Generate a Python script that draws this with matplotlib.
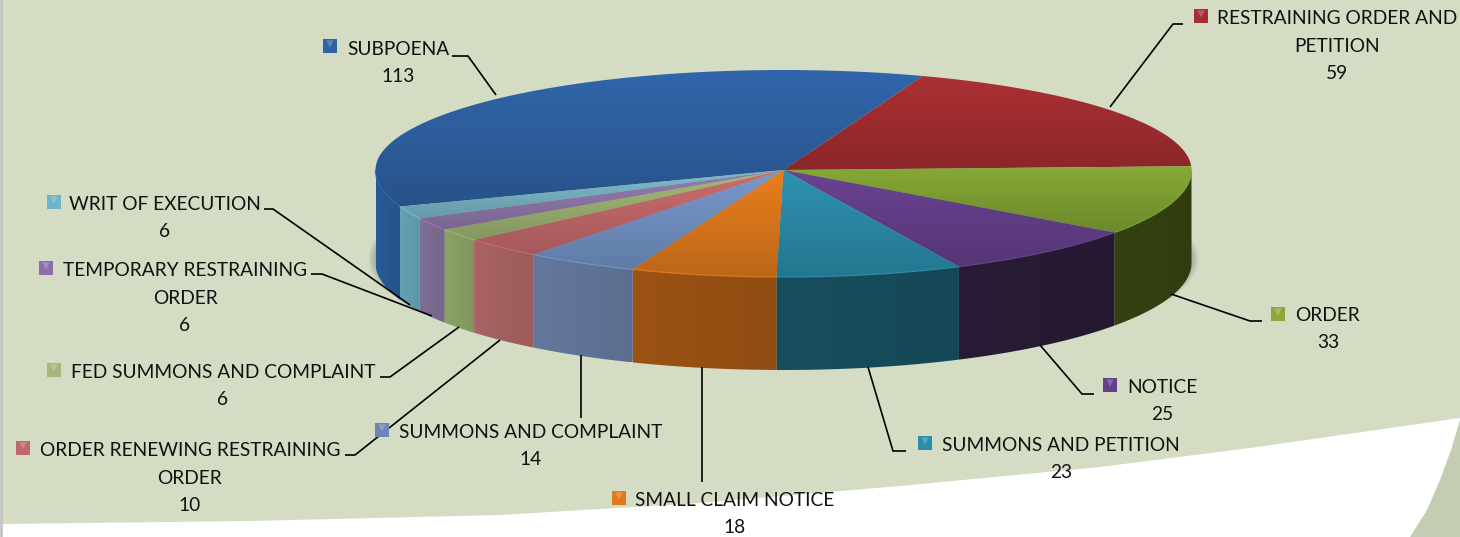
import matplotlib
matplotlib.use('Agg')
import matplotlib.pyplot as plt
from matplotlib.patches import Polygon, Ellipse
import matplotlib.colors as mc
import numpy as np

plt.rcParams['font.family'] = ['Lato', 'DejaVu Sans']

categories = ['SUBPOENA', 'RESTRAINING ORDER AND\nPETITION', 'ORDER', 'NOTICE',
              'SUMMONS AND PETITION', 'SMALL CLAIM NOTICE', 'SUMMONS AND COMPLAINT',
              'ORDER RENEWING RESTRAINING\nORDER', 'FED SUMMONS AND COMPLAINT',
              'TEMPORARY RESTRAINING\nORDER', 'WRIT OF EXECUTION']
values = [113, 59, 33, 25, 23, 18, 14, 10, 6, 6, 6]

top_colors = ['#2f62a4', '#a52e32', '#80a334', '#66408c', '#2c8dab', '#e07a1c',
              '#7393c6', '#c4696b', '#9db472', '#9079ab', '#7ab7c7']
side_colors = ['#25578f', '#6b1c1e', '#323f10', '#271a33', '#164b5a', '#964f13',
               '#5f7396', '#a35f60', '#869c62', '#7a6a90', '#5f9cad']
marker_colors = ['#2f62a4', '#a52e32', '#8aa83c', '#66408c', '#2c8dab', '#e07a1c',
                 '#6d86b8', '#c0686a', '#a9b67a', '#8a6fa8', '#6fb3c8']

# label text centre, marker centre, leader line points
label_x = [398, 1337, 1328, 1162, 1061, 735, 531, 190, 223, 185, 165]
label_y = [63, 46, 329, 401, 459, 514, 446, 478, 386, 298, 218]
marker_xy = [(330, 46), (1201, 16), (1278, 314), (1110, 385), (925, 443), (619, 498),
             (382, 430), (23, 448), (54, 370), (46, 268), (54, 202)]
leaders = [[(452, 56), (468, 56), (496, 95)],
           [(1183, 24), (1173, 24), (1110, 107)],
           [(1262, 321), (1250, 321), (1171, 294)],
           [(1094, 394), (1082, 394), (1040, 345)],
           [(906, 451), (893, 451), (868, 367)],
           [(702, 482), (702, 367)],
           [(581, 418), (581, 355)],
           [(345, 455), (355, 455), (500, 340)],
           [(380, 377), (390, 377), (459, 327)],
           [(311, 274), (322, 274), (432, 316)],
           [(264, 209), (273, 209), (410, 305)]]

cx, cy, rx, ry_back, ry_front, depth = 783.5, 170, 408, 100, 107, 93
start_angle = 200

fig = plt.figure(figsize=(14.6, 5.37), dpi=100)
ax = fig.add_axes([0, 0, 1, 1])
ax.set_xlim(0, 1460)
ax.set_ylim(537, 0)
ax.axis('off')

# background shapes
xs = np.array([0, 250, 500, 700, 900, 1100, 1250, 1460])
curve = np.array([524, 521, 515, 503, 486, 467, 448, 418])
gx = np.linspace(0, 1460, 300)
ax.fill_between(gx, np.interp(gx, xs, curve), 0, color='#d4dcc4', lw=0)
ax.add_patch(Polygon([(1410, 537), (1427, 510), (1440, 480), (1451, 450), (1460, 420), (1460, 537)],
                     fc='#c5ccb4', lw=0))
ax.plot([1, 1], [0, 537], color='#c4c4c4', lw=2)

# soft shadow
for i in range(6):
    ax.add_patch(Ellipse((cx, cy + depth - 4), 2 * rx + 14 - 2.4 * i, 2 * ry_front + 6 - 2 * i,
                         fc='black', alpha=0.035, lw=0))


def ell(a, dy=0):
    a = np.radians(a)
    s = np.sin(a)
    return cx + rx * np.cos(a), cy - np.where(s > 0, ry_back, ry_front) * s + dy


def gradient(color, f0, f1, extent, horizontal=True):
    # small image going from colour*f0 to colour*f1, clipped later
    c = np.array(mc.to_rgb(color))
    t = np.linspace(0, 1, 64)
    img = np.outer(f0 + (f1 - f0) * t, c).clip(0, 1)
    img = img[None, :, :] if horizontal else img[:, None, :]
    return ax.imshow(img, extent=extent, aspect='auto', zorder=3, interpolation='bilinear')


angles = start_angle - np.cumsum([0] + values) * 360 / sum(values)

# side wall, only the part facing the viewer
for i in range(len(values)):
    for shift in (0, 360):
        lo = max(angles[i + 1] + shift, 180)
        hi = min(angles[i] + shift, 360)
        if hi <= lo:
            continue
        t = np.linspace(lo, hi, 60)
        x, y = ell(t)
        x2, y2 = ell(t[::-1], depth)
        poly = Polygon(np.r_[np.c_[x, y], np.c_[x2, y2]], closed=True, fc='none', lw=0)
        ax.add_patch(poly)
        im = gradient(side_colors[i], 1.04, 0.96, [x.min(), x.max(), y2.max(), y.min()])
        im.set_clip_path(poly)

# top of the pie
for i in range(len(values)):
    t = np.linspace(angles[i + 1], angles[i], 100)
    x, y = ell(t)
    poly = Polygon(np.r_[[[cx, cy]], np.c_[x, y]], closed=True, fc='none', lw=0)
    ax.add_patch(poly)
    y0, y1 = min(y.min(), cy), max(y.max(), cy)
    x0, x1 = min(x.min(), cx), max(x.max(), cx)
    im = gradient(top_colors[i], 1.04, 0.84, [x0 - 1, x1 + 1, y1, y0], horizontal=False)
    im.set_clip_path(poly)
    # light rim on the front edge
    front = t[(t % 360) > 180]
    if len(front):
        fx, fy = ell(front)
        ax.plot(fx, fy, color=top_colors[i], lw=1, alpha=0.8, zorder=4)

ax.set_xlim(0, 1460)
ax.set_ylim(537, 0)

# leader lines, markers and labels
for pts in leaders:
    p = np.array(pts)
    ax.plot(p[:, 0], p[:, 1], color='black', lw=1.2, zorder=5, solid_capstyle='butt')

for i, name in enumerate(categories):
    mx, my = marker_xy[i]
    ax.scatter([mx], [my], marker='s', s=100, color=marker_colors[i], edgecolors='none', zorder=6)
    ax.scatter([mx], [my - 2], marker='v', s=28, color='white', alpha=0.22, edgecolors='none', zorder=6)
    ax.text(label_x[i], label_y[i], '%s\n%d' % (name, values[i]), ha='center', va='center',
            fontsize=13.8, color='#111111', linespacing=1.72, zorder=7)

plt.savefig('out.png', dpi=100)
